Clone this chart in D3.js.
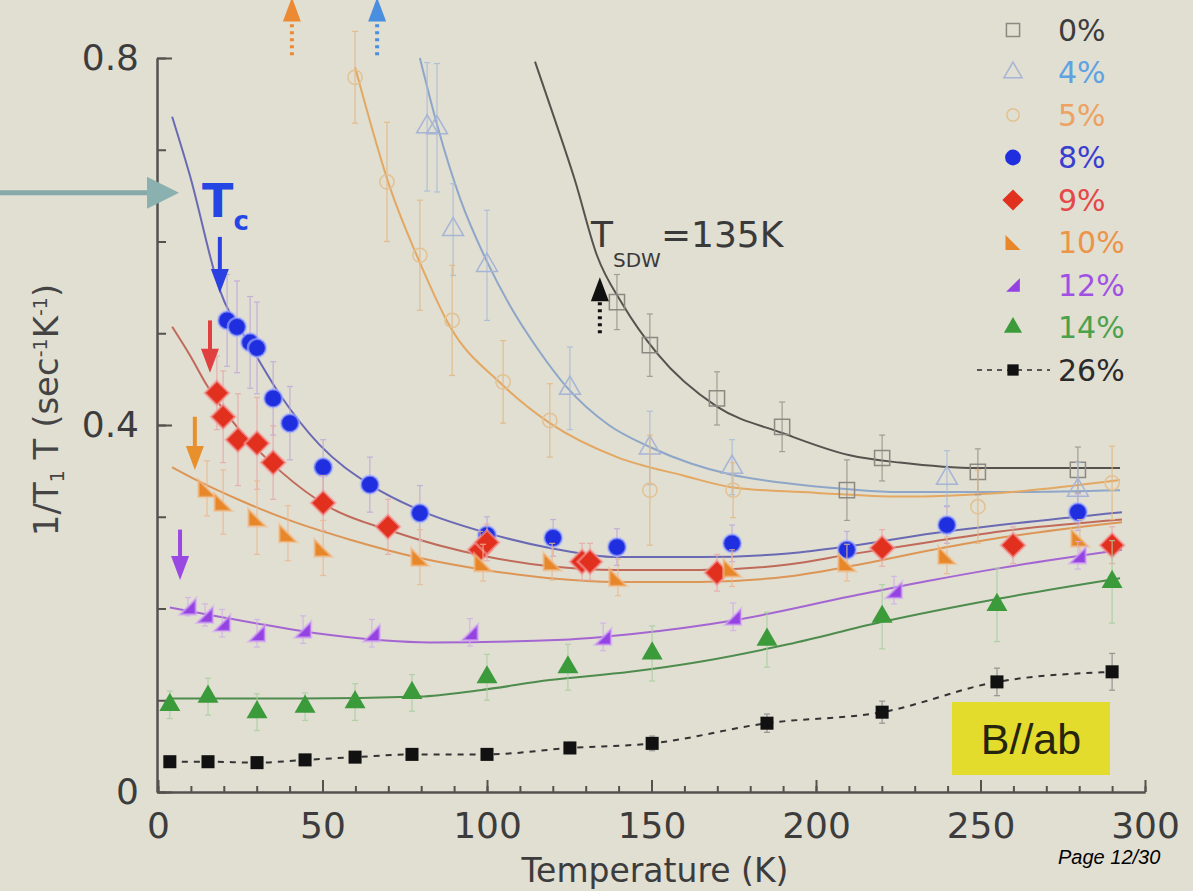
<!DOCTYPE html>
<html>
<head>
<meta charset="utf-8">
<script src="https://cdn.jsdelivr.net/npm/d3@7"></script>
<style>
body{margin:0;background:#e1ded2;}
svg{display:block;}
</style>
</head>
<body>
<svg id="chart"></svg>
<script>
// ---- data (T in K, 1/T1T in sec^-1 K^-1) ----
var legendLabels = ["0%","4%","5%","8%","9%","10%","12%","14%","26%"];

var temp0 = [139.5,149.5,169.9,189.7,209.4,220.1,249.2,279.6];
var val0  = [0.534,0.487,0.429,0.398,0.329,0.364,0.349,0.351];
var err0  = [0.030,0.034,0.029,0.027,0.033,0.025,0.025,0.025];
var fitT0 = [114.6,120.7,126.7,133.4,141.3,151.7,169.9,190.0,210.3,225.5,249.2,271.1,292.4];
var fitV0 = [0.796,0.732,0.667,0.585,0.531,0.478,0.420,0.391,0.367,0.359,0.353,0.353,0.353];

var temp4 = [81.8,84.8,89.7,100.0,125.2,149.5,174.5,239.8,279.6];
var val4  = [0.725,0.724,0.613,0.574,0.440,0.375,0.354,0.342,0.329];
var err4  = [0.070,0.070,0.050,0.060,0.045,0.040,0.030,0.030,0.030];
var fitT4 = [79.6,85.0,92.0,100.0,107.0,115.0,124.3,137.0,149.5,162.0,174.0,190.0,210.0,225.0,256.0,292.4];
var fitV4 = [0.800,0.725,0.645,0.578,0.530,0.485,0.441,0.400,0.376,0.358,0.346,0.337,0.330,0.327,0.327,0.329];

var temp5 = [59.9,69.6,79.6,89.4,104.9,119.1,149.5,174.8,249.2,290.0];
var val5  = [0.779,0.665,0.585,0.514,0.447,0.405,0.329,0.329,0.311,0.337];
var err5  = [0.050,0.065,0.060,0.060,0.045,0.040,0.060,0.030,0.040,0.040];
var fitT5 = [59.9,70.5,79.6,88.8,104.0,119.1,139.5,159.6,174.8,200.3,225.5,255.9,292.4];
var fitV5 = [0.790,0.659,0.577,0.507,0.446,0.402,0.365,0.345,0.332,0.326,0.322,0.326,0.340];

var temp8 = [21.0,24.0,28.0,30.1,35.0,40.1,50.2,64.4,79.6,100.0,120.1,139.5,174.5,209.4,239.8,279.6];
var val8  = [0.514,0.507,0.490,0.484,0.429,0.402,0.354,0.335,0.304,0.280,0.277,0.267,0.271,0.264,0.291,0.305];
var err8  = [0.05,0.05,0.05,0.05,0.04,0.04,0.03,0.03,0.03,0.02,0.02,0.02,0.02,0.02,0.02,0.02];
var fitT8 = [4.3,9.7,18.8,28.0,37.1,49.2,64.4,79.6,99.4,119.1,139.5,164.7,191.5,210.3,235.6,255.9,293.0];
var fitV8 = [0.736,0.672,0.547,0.487,0.433,0.378,0.335,0.307,0.283,0.266,0.256,0.256,0.260,0.268,0.282,0.291,0.305];

var temp9 = [17.9,19.8,24.3,30.1,35.0,50.2,69.9,97.9,100.0,128.9,131.3,169.9,220.1,259.9,290.0];
var val9  = [0.435,0.409,0.384,0.380,0.359,0.315,0.289,0.264,0.272,0.251,0.251,0.239,0.266,0.269,0.269];
var err9  = [0.04,0.05,0.05,0.05,0.04,0.03,0.03,0.02,0.02,0.02,0.02,0.02,0.02,0.02,0.02];
var fitT9 = [4.3,9.7,14.9,24.9,37.1,52.3,70.5,99.4,119.1,139.5,164.7,191.5,210.3,235.6,255.9,293.0];
var fitV9 = [0.507,0.476,0.443,0.394,0.350,0.310,0.285,0.257,0.246,0.242,0.242,0.248,0.259,0.273,0.284,0.297];

var temp10 = [14.9,19.8,30.1,39.5,50.2,79.6,98.8,119.8,139.8,174.5,209.4,239.8,280.2];
var val10  = [0.331,0.316,0.299,0.282,0.266,0.256,0.250,0.251,0.234,0.244,0.250,0.258,0.277];
var err10  = [0.030,0.035,0.040,0.030,0.030,0.030,0.020,0.020,0.020,0.020,0.020,0.020,0.020];
var fitT10 = [4.3,12.8,24.9,40.1,58.4,79.6,99.4,119.1,139.5,164.7,191.5,210.3,235.6,255.9,293.0];
var fitV10 = [0.354,0.338,0.318,0.296,0.275,0.255,0.242,0.233,0.229,0.229,0.235,0.246,0.264,0.277,0.294];

var temp12 = [9.1,14.3,19.5,30.1,44.1,65.0,94.8,135.3,174.8,223.7,279.6];
var val12  = [0.202,0.193,0.184,0.173,0.177,0.173,0.174,0.169,0.191,0.220,0.258];
var err12  = [0.010,0.012,0.015,0.015,0.015,0.015,0.015,0.015,0.015,0.015,0.015];
var fitT12 = [3.6,28.0,52.3,82.7,123.1,143.5,174.8,210.3,235.6,255.9,293.0];
var fitV12 = [0.201,0.185,0.171,0.163,0.166,0.172,0.187,0.213,0.231,0.244,0.264];

var temp14 = [3.6,15.2,30.1,44.7,59.9,77.2,100.0,124.6,150.2,185.1,220.1,255.0,290.0];
var val14  = [0.095,0.104,0.087,0.093,0.098,0.108,0.125,0.136,0.151,0.166,0.191,0.204,0.229];
var err14  = [0.015,0.020,0.020,0.015,0.020,0.020,0.025,0.025,0.030,0.030,0.035,0.040,0.045];
var fitT14 = [3.6,43.2,79.6,97.9,119.1,143.5,164.7,191.5,219.5,255.9,292.4];
var fitV14 = [0.102,0.102,0.104,0.111,0.122,0.131,0.142,0.161,0.185,0.211,0.233];

var temp26 = [3.6,15.2,30.1,44.7,59.9,77.2,100.0,125.2,150.2,185.1,220.1,255.0,290.0];
var val26  = [0.033,0.033,0.032,0.035,0.038,0.041,0.041,0.048,0.053,0.075,0.087,0.120,0.131];
var err26  = [0.004,0.004,0.004,0.004,0.004,0.005,0.005,0.006,0.008,0.010,0.012,0.015,0.020];

var xTicks = [0,50,100,150,200,250,300];
var yTicks = [0,0.4,0.8];

// ---- setup ----
var width = 1193, height = 891;
var svg = d3.select("#chart").attr("width",width).attr("height",height);
svg.append("rect").attr("width",width).attr("height",height).attr("fill","#e1ded2");

var xScale = d3.scaleLinear().domain([0,300]).range([158,1145]);
var yScale = d3.scaleLinear().domain([0,0.8]).range([792,58]);

// custom symbols
var triLeft = {draw:function(ctx,size){
    var s = Math.sqrt(size*2);
    ctx.moveTo(-s/2,-s/2); ctx.lineTo(s/2,s/2); ctx.lineTo(-s/2,s/2); ctx.closePath();
}};
var triRight = {draw:function(ctx,size){
    var s = Math.sqrt(size*2);
    ctx.moveTo(s/2,-s/2); ctx.lineTo(s/2,s/2); ctx.lineTo(-s/2,s/2); ctx.closePath();
}};
var diamond = {draw:function(ctx,size){
    var r = Math.sqrt(size/2);
    ctx.moveTo(0,-r); ctx.lineTo(r,0); ctx.lineTo(0,r); ctx.lineTo(-r,0); ctx.closePath();
}};

var makePts = function(t,v,e){
    return t.map(function(d,i){ return {t:d, v:v[i], e:e[i]}; });
}
var makeFit = function(t,v){
    return t.map(function(d,i){ return {t:d, v:v[i]}; });
}

var series = [
  {name:"0%", pts:makePts(temp0,val0,err0), fit:makeFit(fitT0,fitV0), sym:d3.symbolSquare, size:230, fill:"none", stroke:"#8d8882", line:"#56524e", err:"#9a928a", text:"#3c3c3c"},
  {name:"4%", pts:makePts(temp4,val4,err4), fit:makeFit(fitT4,fitV4), sym:d3.symbolTriangle, size:190, fill:"none", stroke:"#a6b4d6", line:"#8ea6c8", err:"#a8bcd8", text:"#5ea2e2"},
  {name:"5%", pts:makePts(temp5,val5,err5), fit:makeFit(fitT5,fitV5), sym:d3.symbolCircle, size:160, fill:"none", stroke:"#e2c292", line:"#e3a862", err:"#e4b880", text:"#eca262"},
  {name:"8%", pts:makePts(temp8,val8,err8), fit:makeFit(fitT8,fitV8), sym:d3.symbolCircle, size:260, fill:"#1f2fe0", stroke:"#aab4ff", line:"#6a6ab4", err:"#c0a8d8", text:"#3a3ed0"},
  {name:"9%", pts:makePts(temp9,val9,err9), fit:makeFit(fitT9,fitV9), sym:diamond, size:300, fill:"#e2301f", stroke:"#f4a0a0", line:"#c06a5a", err:"#e8a8a8", text:"#e44848"},
  {name:"10%", pts:makePts(temp10,val10,err10), fit:makeFit(fitT10,fitV10), sym:triLeft, size:150, fill:"#e8862a", stroke:"#f0c090", line:"#dc9656", err:"#ecb890", text:"#ec9448"},
  {name:"12%", pts:makePts(temp12,val12,err12), fit:makeFit(fitT12,fitV12), sym:triRight, size:125, fill:"#9442e2", stroke:"#d4a8f4", line:"#a466d2", err:"#d0b0e8", text:"#a050e2"},
  {name:"14%", pts:makePts(temp14,val14,err14), fit:makeFit(fitT14,fitV14), sym:d3.symbolTriangle, size:190, fill:"#3b9a3a", stroke:"none", line:"#4e8c4e", err:"#a8d0a0", text:"#4ca24c"},
  {name:"26%", pts:makePts(temp26,val26,err26), fit:null, sym:d3.symbolSquare, size:170, fill:"#111111", stroke:"none", line:"#333333", err:"#888888", text:"#2a2a2a"}
];

// ---- axes ----
var axisColor = "#55524e";
var xMinor = svg.append("g").attr("transform","translate(0,792)")
    .call(d3.axisBottom(xScale).tickValues(d3.range(0,301,10)).tickSizeInner(-6).tickSizeOuter(0).tickFormat(""));
var xAxis = svg.append("g").attr("transform","translate(0,792)")
    .call(d3.axisBottom(xScale).tickValues(xTicks).tickSizeInner(-12).tickSizeOuter(0).tickPadding(20));
var yMinor = svg.append("g").attr("transform","translate(157,0)")
    .call(d3.axisLeft(yScale).tickValues(d3.range(0,0.81,0.1)).tickSizeInner(-9).tickSizeOuter(0).tickFormat(""));
var yAxis = svg.append("g").attr("transform","translate(157,0)")
    .call(d3.axisLeft(yScale).tickValues(yTicks).tickSizeInner(-15).tickSizeOuter(0).tickPadding(18)
        .tickFormat(function(d){ return d===0 ? "0" : d3.format(".1f")(d); }));

[xMinor,xAxis,yMinor,yAxis].forEach(function(g){
    g.selectAll("path,line").attr("stroke",axisColor).attr("stroke-width",2);
    g.selectAll("text").attr("fill","#3c3c3c").style("font-family","DejaVu Sans, sans-serif").style("font-size","36px");
});

svg.append("text").attr("x",655).attr("y",882).attr("text-anchor","middle")
    .attr("fill","#3c3c3c").style("font-family","DejaVu Sans, sans-serif").style("font-size","33px")
    .text("Temperature (K)");

var yLab = svg.append("text").attr("transform","translate(58,410) rotate(-90)").attr("text-anchor","middle")
    .attr("fill","#444").style("font-family","DejaVu Sans, sans-serif").style("font-size","34px");
yLab.append("tspan").text("1/T");
yLab.append("tspan").attr("baseline-shift","-30%").style("font-size","19px").text("1");
yLab.append("tspan").text(" T (sec");
yLab.append("tspan").attr("baseline-shift","60%").style("font-size","19px").text("-1");
yLab.append("tspan").text("K");
yLab.append("tspan").attr("baseline-shift","60%").style("font-size","19px").text("-1");
yLab.append("tspan").text(")");

// ---- fit curves ----
var line = d3.line()
    .x(function(d){ return xScale(d.t); })
    .y(function(d){ return yScale(d.v); })
    .curve(d3.curveMonotoneX);

series.forEach(function(s){
    var data = s.fit ? s.fit : s.pts;
    svg.append("path").datum(data)
        .attr("d",line)
        .attr("fill","none")
        .attr("stroke",s.line)
        .attr("stroke-width",2)
        .attr("stroke-dasharray", s.fit ? null : "6,6");
});

// ---- error bars + markers ----
series.forEach(function(s){
    var g = svg.append("g");
    var eb = g.selectAll("g.eb").data(s.pts).enter().append("g")
        .attr("stroke",s.err).attr("stroke-width",1.2).attr("opacity",0.85);
    eb.append("line")
        .attr("x1",function(d){ return xScale(d.t); }).attr("x2",function(d){ return xScale(d.t); })
        .attr("y1",function(d){ return yScale(d.v-d.e); }).attr("y2",function(d){ return yScale(d.v+d.e); });
    eb.append("line")
        .attr("x1",function(d){ return xScale(d.t)-3; }).attr("x2",function(d){ return xScale(d.t)+3; })
        .attr("y1",function(d){ return yScale(d.v+d.e); }).attr("y2",function(d){ return yScale(d.v+d.e); });
    eb.append("line")
        .attr("x1",function(d){ return xScale(d.t)-3; }).attr("x2",function(d){ return xScale(d.t)+3; })
        .attr("y1",function(d){ return yScale(d.v-d.e); }).attr("y2",function(d){ return yScale(d.v-d.e); });

    g.selectAll("path.m").data(s.pts).enter().append("path")
        .attr("transform",function(d){ return "translate("+xScale(d.t)+","+yScale(d.v)+")"; })
        .attr("d",d3.symbol().type(s.sym).size(s.size))
        .attr("fill",s.fill)
        .attr("stroke",s.stroke)
        .attr("stroke-width", s.fill==="none" ? 1.5 : 2.5)
        .attr("stroke-opacity", s.fill==="none" ? 1 : 0.6);
});

// ---- legend ----
var legY = d3.scalePoint().domain(legendLabels).range([30,370]);
var legend = svg.append("g");
legend.append("line").attr("x1",977).attr("x2",1050).attr("y1",legY("26%")).attr("y2",legY("26%"))
    .attr("stroke","#555").attr("stroke-width",2).attr("stroke-dasharray","5,5");
series.forEach(function(s){
    legend.append("path")
        .attr("transform","translate(1013,"+legY(s.name)+")")
        .attr("d",d3.symbol().type(s.sym).size(s.size*0.75))
        .attr("fill",s.fill)
        .attr("stroke",s.fill==="none" ? s.stroke : "none")
        .attr("stroke-width",1.5);
    legend.append("text").attr("x",1058).attr("y",legY(s.name)).attr("dy","0.36em")
        .attr("fill",s.text).style("font-family","DejaVu Sans, sans-serif").style("font-size","30px")
        .text(s.name);
});

// ---- annotations ----
var arrow = function(x, y1, y2, color, dotted, w){
    // vertical arrow from y1 to y2, head at y2
    var px = xScale(x), p1 = yScale(y1), p2 = yScale(y2);
    var dir = p2 > p1 ? 1 : -1;
    svg.append("line").attr("x1",px).attr("x2",px).attr("y1",p1).attr("y2",p2 - dir*18)
        .attr("stroke",color).attr("stroke-width",w||4)
        .attr("stroke-dasharray", dotted ? "3,4" : null);
    svg.append("path")
        .attr("d","M"+(px-9)+","+(p2-dir*24)+"L"+px+","+p2+"L"+(px+9)+","+(p2-dir*24)+"Z")
        .attr("fill",color);
}
// T_c arrows (temperature, from, to)
var tcArrowT = [18.8, 15.8, 11.2, 6.7];
var tcArrowFrom = [0.605, 0.514, 0.409, 0.286];
var tcArrowTo = [0.544, 0.457, 0.351, 0.231];
var tcArrowColor = ["#2a40e0","#e04040","#e8902c","#9a48e2"];
tcArrowT.forEach(function(t,i){ arrow(t, tcArrowFrom[i], tcArrowTo[i], tcArrowColor[i], false, 4); });

// up arrows at top and T_SDW
arrow(40.7, 0.803, 0.866, "#ec8a34", true, 4);
arrow(66.6, 0.803, 0.866, "#4a8ee0", true, 4);
arrow(134.3, 0.500, 0.561, "#111", true, 4);

// teal arrow from left
var ty = yScale(0.653);
svg.append("line").attr("x1",0).attr("x2",152).attr("y1",ty).attr("y2",ty)
    .attr("stroke","#86a9aa").attr("stroke-width",5);
svg.append("path").attr("d","M147,"+(ty-16)+"L179,"+ty+"L147,"+(ty+16)+"Z").attr("fill","#8ab0b0");

// T_c label
var tc = svg.append("text").attr("x",202).attr("y",217).attr("fill","#2446e2")
    .style("font-family","DejaVu Sans, sans-serif").style("font-weight","bold").style("font-size","46px");
tc.append("tspan").text("T");
tc.append("tspan").attr("dy",13).style("font-size","26px").text("c");

// T_SDW label
var tsdw = svg.append("text").attr("x",591).attr("y",247).attr("fill","#3a3a3a")
    .style("font-family","DejaVu Sans, sans-serif").style("font-size","36px");
tsdw.append("tspan").text("T");
tsdw.append("tspan").attr("dy",20).style("font-size","20px").text("SDW");
tsdw.append("tspan").attr("dy",-20).text("=135K");

// B//ab box
svg.append("rect").attr("x",952).attr("y",702).attr("width",158).attr("height",73).attr("fill","#e3dc2c");
svg.append("text").attr("x",1031).attr("y",754).attr("text-anchor","middle").attr("fill","#26240c")
    .style("font-family","Liberation Sans, Arial, sans-serif").style("font-size","43px").text("B//ab");

// page number, just below the "300" label
svg.append("text").attr("x",1058).attr("y",864).attr("fill","#000")
    .style("font-family","Liberation Sans, Arial, sans-serif").style("font-style","italic").style("font-size","20px")
    .text("Page 12/30");
</script>
</body>
</html>
